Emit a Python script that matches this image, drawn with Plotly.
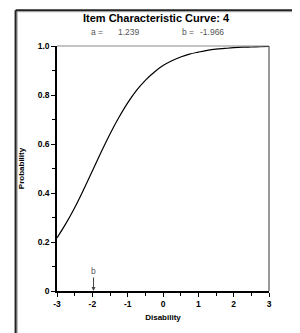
import plotly.graph_objects as go

theta = [-3, -2.75, -2.5, -2.25, -2, -1.75, -1.5, -1.25, -1, -0.75, -0.5, -0.25,
         0, 0.25, 0.5, 0.75, 1, 1.25, 1.5, 1.75, 2, 2.25, 2.5, 2.75, 3]
prob = [0.217, 0.275, 0.340, 0.413, 0.490, 0.567, 0.641, 0.708, 0.768, 0.819, 0.860, 0.893,
        0.920, 0.940, 0.955, 0.967, 0.975, 0.982, 0.987, 0.990, 0.993, 0.995, 0.996, 0.997, 0.998]
x_ticks = [-3, -2, -1, 0, 1, 2, 3]
y_ticks = [0, 0.2, 0.4, 0.6, 0.8, 1.0]
y_tick_labels = ["0", "0.2", "0.4", "0.6", "0.8", "1.0"]
title_text = "Item Characteristic Curve: 4"
a_param = "1.239"
b_param = -1.966

OFF = 8
W, H = 300 - OFF, 333 - OFF
PL, PR, PT, PB = 51.5, 269.5, 46, 299.5
L, R, T, B = PL - OFF, W - (PR - OFF), PT - OFF, H - (PB - OFF)
pw, ph = PR - PL, PB - PT

def px(x):
    return (x - PL) / pw

def py(y):
    return (PB - y) / ph

font = dict(family="Arial, Liberation Sans, sans-serif")

fig = go.Figure()
fig.add_trace(go.Scatter(x=theta, y=prob, mode="lines", line=dict(color="black", width=1.2, shape="spline"),
                         hoverinfo="skip", showlegend=False))

fig.update_layout(
    width=W, height=H, margin=dict(l=L, r=R, t=T, b=B),
    paper_bgcolor="white", plot_bgcolor="white", showlegend=False,
    xaxis=dict(range=[-3, 3], tickvals=x_ticks, ticktext=[str(v) for v in x_ticks],
               showgrid=False, zeroline=False, showline=True, linecolor="black", linewidth=1.5,
               ticks="outside", ticklen=4, tickcolor="black", tickwidth=1,
               tickfont=dict(size=8.5, color="black", weight="bold", **font),
               minor=dict(tickvals=[-2.5, -1.5, -0.5, 0.5, 1.5, 2.5], ticks="outside", ticklen=3, tickcolor="black"),
               title=dict(text="Disability", font=dict(size=8, color="black", weight="bold", **font), standoff=6)),
    yaxis=dict(range=[0, 1], tickvals=y_ticks, ticktext=y_tick_labels,
               showgrid=False, zeroline=False, showline=True, linecolor="black", linewidth=1.5,
               ticks="outside", ticklen=4, tickcolor="black", tickwidth=1,
               tickfont=dict(size=8.5, color="black", weight="bold", **font),
               minor=dict(tickvals=[0.1, 0.3, 0.5, 0.7, 0.9], ticks="outside", ticklen=3, tickcolor="black"),
               title=dict(text="Probability", font=dict(size=8, color="black", weight="bold", **font), standoff=12)),
)

shapes = [
    dict(type="line", xref="paper", yref="paper", x0=0, x1=1, y0=1, y1=1, line=dict(color="#888", width=1)),
    dict(type="line", xref="paper", yref="paper", x0=1, x1=1, y0=0, y1=1, line=dict(color="#555", width=1.2)),
    dict(type="line", xref="paper", yref="paper", x0=px(9), x1=px(310), y0=py(9), y1=py(9), line=dict(color="#222", width=2.2)),
    dict(type="line", xref="paper", yref="paper", x0=px(9), x1=px(9), y0=py(9), y1=py(345), line=dict(color="#222", width=2.2)),
    dict(type="line", xref="paper", yref="paper", x0=px(10.5), x1=px(310), y0=py(10.5), y1=py(10.5), line=dict(color="#999", width=1)),
    dict(type="line", xref="paper", yref="paper", x0=px(10.5), x1=px(10.5), y0=py(10.5), y1=py(345), line=dict(color="#999", width=1)),
]
fig.update_layout(shapes=shapes)

ann = [
    dict(text="<b>" + title_text + "</b>", x=px(154), y=py(17), xref="paper", yref="paper", showarrow=False,
         font=dict(size=11, color="black", **font), xanchor="center", yanchor="middle"),
    dict(text="a =", x=px(93), y=py(32), xref="paper", yref="paper", showarrow=False,
         font=dict(size=8.5, color="#555", **font), xanchor="center", yanchor="middle"),
    dict(text=a_param, x=px(126), y=py(32), xref="paper", yref="paper", showarrow=False,
         font=dict(size=8.5, color="#555", **font), xanchor="center", yanchor="middle"),
    dict(text="b =", x=px(186), y=py(32), xref="paper", yref="paper", showarrow=False,
         font=dict(size=8.5, color="#555", **font), xanchor="center", yanchor="middle"),
    dict(text="%.3f" % b_param, x=px(211), y=py(32), xref="paper", yref="paper", showarrow=False,
         font=dict(size=8.5, color="#555", **font), xanchor="center", yanchor="middle"),
    dict(text="b", x=b_param, y=0, xref="x", yref="y", showarrow=True, ax=0, ay=-20,
         arrowhead=2, arrowsize=0.8, arrowwidth=1, arrowcolor="#444", standoff=0,
         font=dict(size=8.5, color="#555", **font)),
]
fig.update_layout(annotations=ann)

fig.write_html("out.html", config={"displayModeBar": False})
